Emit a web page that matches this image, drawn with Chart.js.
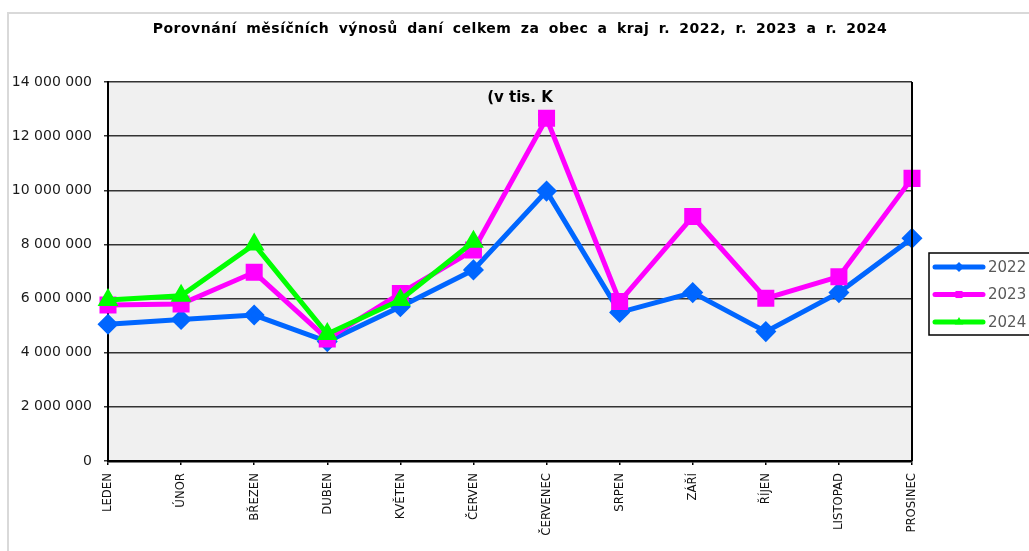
<!DOCTYPE html>
<html>
<head>
<meta charset="utf-8">
<script src="https://cdn.jsdelivr.net/npm/chart.js@4/dist/chart.umd.min.js"></script>
<style>
  html, body { margin: 0; padding: 0; background: #fff; overflow: hidden; }
  #chart { position: absolute; left: 0; top: 0; }
</style>
</head>
<body>
<canvas id="chart" width="1029" height="551"></canvas>
<script>
// months on the x axis
var months = ["LEDEN", "ÚNOR", "BŘEZEN", "DUBEN", "KVĚTEN", "ČERVEN",
              "ČERVENEC", "SRPEN", "ZÁŘÍ", "ŘÍJEN", "LISTOPAD", "PROSINEC"];
var years = ["2022", "2023", "2024"];

// monthly tax yields (v tis. Kč)
var values2022 = [5050000, 5230000, 5390000, 4410000, 5700000, 7060000,
                  9970000, 5490000, 6220000, 4780000, 6220000, 8230000];
var values2023 = [5760000, 5800000, 6970000, 4510000, 6190000, 7790000,
                  12660000, 5890000, 9030000, 6010000, 6810000, 10440000];
var values2024 = [5950000, 6100000, 8000000, 4690000, 5950000, 8100000,
                  null, null, null, null, null, null];

var yTicks = [0, 2000000, 4000000, 6000000, 8000000, 10000000, 12000000, 14000000];
var chartTitle = "Porovnání měsíčních výnosů daní celkem za obec a kraj r. 2022, r. 2023 a r. 2024";
var unitNote = "(v tis. K";

Chart.defaults.font.family = "DejaVu Sans";

function spaced(v) {
  return String(v).replace(/\B(?=(\d{3})+(?!\d))/g, " ");
}

// plot background, frame, unit note and the boxed legend
var decorations = {
  id: "decorations",
  beforeDraw: function(chart) {
    var ctx = chart.ctx, a = chart.chartArea;
    // title in the original is spread out a bit wider
    var tb = chart.titleBlock;
    if (tb && !tb._spread) {
      var orig = tb.draw;
      tb.draw = function() {
        var c = this.ctx;
        c.save();
        c.letterSpacing = "0.5px";
        c.wordSpacing = "4px";
        orig.apply(this, arguments);
        c.restore();
      };
      tb._spread = true;
    }
    ctx.save();
    ctx.strokeStyle = "#d9d9d9";
    ctx.lineWidth = 2;
    ctx.beginPath();
    ctx.moveTo(8, 600);
    ctx.lineTo(8, 13);
    ctx.lineTo(1100, 13);
    ctx.stroke();
    ctx.fillStyle = "#f0f0f0";
    ctx.fillRect(a.left, a.top, a.right - a.left, a.bottom - a.top);
    ctx.restore();
  },
  afterDatasetsDraw: function(chart) {
    var ctx = chart.ctx, a = chart.chartArea;
    ctx.save();
    // right edge of plot
    ctx.strokeStyle = "#000";
    ctx.lineWidth = 2;
    ctx.beginPath();
    ctx.moveTo(a.right, a.top);
    ctx.lineTo(a.right, a.bottom);
    ctx.stroke();

    ctx.fillStyle = "#000";
    ctx.font = "bold 15px 'DejaVu Sans'";
    ctx.textAlign = "center";
    ctx.textBaseline = "middle";
    ctx.fillText(unitNote, (a.left + a.right) / 2 + 10, a.top + 16);

    // legend
    var bx = a.right + 17, by = a.top + 171;
    ctx.lineWidth = 1.5;
    ctx.strokeRect(bx, by, 130, 82);
    chart.data.datasets.forEach(function(ds, i) {
      var y = by + 14 + i * 27.5;
      ctx.strokeStyle = ds.borderColor;
      ctx.lineWidth = 5;
      ctx.lineCap = "round";
      ctx.beginPath();
      ctx.moveTo(bx + 6, y);
      ctx.lineTo(bx + 54, y);
      ctx.stroke();
      ctx.fillStyle = ds.borderColor;
      Chart.helpers.drawPoint(ctx, {pointStyle: ds.pointStyle, radius: 5, rotation: 0}, bx + 30, y);
      ctx.fillStyle = "#595959";
      ctx.font = "15px 'DejaVu Sans'";
      ctx.textAlign = "left";
      ctx.fillText(ds.label, bx + 59, y + 1);
    });
    ctx.restore();
  }
};

new Chart(document.getElementById("chart"), {
  type: "line",
  data: {
    labels: months,
    datasets: [
      {
        label: years[0],
        data: values2022,
        borderColor: "#0066ff",
        backgroundColor: "#0066ff",
        borderWidth: 5,
        pointStyle: "rectRot",
        pointRadius: 7,
        order: 3
      },
      {
        label: years[1],
        data: values2023,
        borderColor: "#ff00ff",
        backgroundColor: "#ff00ff",
        borderWidth: 5,
        pointStyle: "rect",
        pointRadius: 8.5,
        order: 2
      },
      {
        label: years[2],
        data: values2024,
        borderColor: "#00ff00",
        backgroundColor: "#00ff00",
        borderWidth: 5,
        pointStyle: "triangle",
        pointRadius: 7,
        order: 1
      }
    ]
  },
  options: {
    responsive: false,
    animation: false,
    layout: { padding: { left: 11, top: 20, right: 0, bottom: 0 } },
    plugins: {
      legend: { display: false },
      tooltip: { enabled: false },
      title: {
        display: true,
        text: chartTitle,
        color: "#000",
        font: { family: "DejaVu Sans", size: 14, weight: "bold", lineHeight: 1.2 },
        padding: { top: 0.5, bottom: 44.7 }
      }
    },
    elements: {
      line: { tension: 0 },
      point: { borderWidth: 0 }
    },
    scales: {
      x: {
        offset: false,
        border: { color: "#000", width: 2.5 },
        grid: { drawOnChartArea: false, drawTicks: true, tickLength: 4, color: "#000", lineWidth: 1.5 },
        ticks: {
          autoSkip: false,
          minRotation: 90,
          maxRotation: 90,
          padding: 8,
          color: "#111",
          font: { family: "'Liberation Sans Narrow', 'Arial Narrow', 'DejaVu Sans Condensed'", size: 13 }
        },
        afterFit: function(s) { s.height = 90; }
      },
      y: {
        min: 0,
        max: 14000000,
        border: { color: "#000", width: 2 },
        grid: { color: "#333", lineWidth: 1.5, tickLength: 4 },
        afterBuildTicks: function(s) { s.ticks = yTicks.map(function(v) { return {value: v}; }); },
        ticks: {
          padding: 12,
          color: "#1a1a1a",
          font: { size: 14 },
          callback: function(v) { return spaced(v); }
        },
        afterFit: function(s) { s.width = 97; }
      },
      yRight: {
        type: "linear",
        position: "right",
        display: true,
        border: { display: false },
        grid: { display: false },
        ticks: { display: false },
        afterFit: function(s) { s.width = 117; }
      }
    }
  },
  plugins: [decorations]
});
</script>
</body>
</html>
